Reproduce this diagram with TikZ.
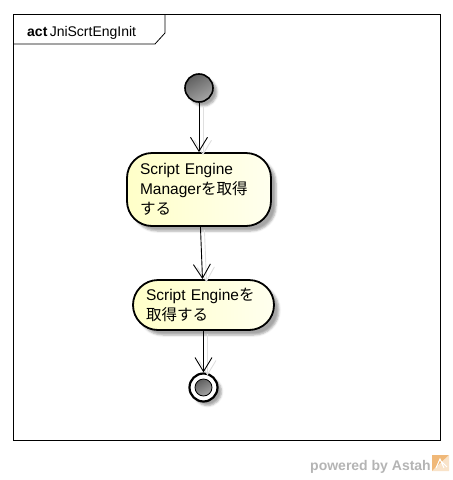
\documentclass[tikz,border=0pt]{standalone}
\usepackage{fontspec}
\setmainfont{Liberation Sans}
\newfontfamily\cjk{Noto Sans CJK JP}
\usetikzlibrary{arrows.meta,shadows.blur}
\definecolor{actyellow}{HTML}{FFFFC8}
\definecolor{astahgray}{HTML}{B4B4B4}
\definecolor{astahorange}{HTML}{F0B878}
\begin{document}
\begin{tikzpicture}[x=1pt,y=-1pt,
  actbox/.style={draw, line width=1.8pt, rounded corners=25pt, shading=axis,
    left color=actyellow, right color=white!70!actyellow, align=left,
    inner xsep=13pt, font=\fontsize{15.5}{20}\selectfont,
    blur shadow={shadow xshift=5pt, shadow yshift=-5pt, shadow opacity=35}},
  ballfill/.style={shading=axis, top color=gray!75!black, bottom color=gray!70!white, shading angle=30},
  flow/.style={line width=0.9pt, -{Straight Barb[length=14pt,width=17pt,line width=0.9pt]}},
  flowshadow/.style={flow, draw=gray!25, transform canvas={shift={(4pt,-3pt)}}},
]
\useasboundingbox (0,0) rectangle (453,480);
% frame
\draw[line width=0.8pt] (13,14) rectangle (440,440);
\draw[line width=0.8pt] (13,44) -- (155,44) -- (165,33) -- (165,14);
\node[anchor=base west, inner sep=0pt, font=\fontsize{14}{16}\selectfont] (title) at (27,36) {\textbf{act}\,JniScrtEngInit};
% initial node
\node[circle, minimum size=28pt, inner sep=0pt, draw, line width=1.6pt, ballfill,
  blur shadow={shadow xshift=4pt, shadow yshift=-4pt, shadow opacity=35}] (init) at (199,88) {};
% actions
\node[actbox, minimum width=144pt, minimum height=73pt, text width=118pt] (act1) at (199,189.5)
  {Script Engine\\Manager{\cjk を取得}\\{\cjk する}};
\node[actbox, minimum width=141pt, minimum height=50pt, text width=115pt] (act2) at (203.5,305)
  {Script Engine{\cjk を}\\{\cjk 取得する}};
% final node
\node[circle, minimum size=28pt, inner sep=0pt, draw, line width=2.2pt, fill=white,
  blur shadow={shadow xshift=4pt, shadow yshift=-4pt, shadow opacity=35}] (final) at (203.5,387.5) {};
\node[circle, minimum size=17pt, inner sep=0pt, draw, line width=0.8pt, ballfill] (finalin) at (final.center) {};
% flows
\draw[flowshadow] (init) -- (act1);
\draw[flowshadow] (act1) -- (act2);
\draw[flowshadow] (act2) -- (final);
\draw[flow] (init) -- (act1);
\draw[flow] (act1) -- (act2);
\draw[flow] (act2) -- (final);
% powered by
\node[anchor=base east, inner sep=0pt, text=astahgray, font=\bfseries\fontsize{14}{16}\selectfont] (powered) at (431,470) {powered by Astah};
\fill[astahorange] (432,455) rectangle (449,471);
\fill[white!60!astahorange] (432,471) -- (449,455) -- (449,471) -- cycle;
\draw[white, line width=1pt] (436,468) -- (440,459) -- (444,468) (441,461) -- (447,467);
\end{tikzpicture}
\end{document}
